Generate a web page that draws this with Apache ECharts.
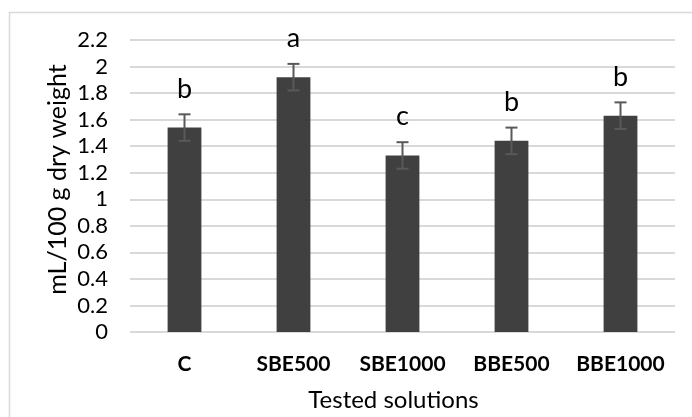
<!DOCTYPE html>
<html>
<head>
<meta charset="utf-8">
<script src="https://cdn.jsdelivr.net/npm/echarts@6/dist/echarts.min.js"></script>
<style>
html,body{margin:0;padding:0;background:#fff;}
#chart{width:692px;height:417px;}
</style>
</head>
<body>
<div id="chart"></div>
<script>
const categories = ['C', 'SBE500', 'SBE1000', 'BBE500', 'BBE1000'];
const values = [1.54, 1.92, 1.33, 1.44, 1.63];
const errors = [0.10, 0.10, 0.10, 0.10, 0.10];
const letters = ['b', 'a', 'c', 'b', 'b'];
const yTicks = [0, 0.2, 0.4, 0.6, 0.8, 1, 1.2, 1.4, 1.6, 1.8, 2, 2.2];

const FONT = 'Lato';
const chart = echarts.init(document.getElementById('chart'));

const errData = values.map((v, i) => [i, v, errors[i]]);

chart.setOption({
  animation: false,
  backgroundColor: '#fff',
  graphic: [{
    type: 'rect',
    shape: { x: 9.5, y: 12.5, width: 700, height: 420 },
    style: { fill: 'none', stroke: '#d9d9d9', lineWidth: 1.5 },
    z: -1
  }],
  grid: { left: 130, right: 17, top: 40, bottom: 81.5 },
  xAxis: {
    type: 'category',
    data: categories,
    axisLine: { show: false },
    axisTick: { show: false },
    axisLabel: { color: '#000', fontFamily: FONT, fontWeight: 'bold', fontSize: 21, margin: 22, interval: 0 },
    name: 'Tested solutions',
    nameLocation: 'middle',
    nameGap: 56,
    nameMoveOverlap: false,
    nameTextStyle: { color: '#000', fontFamily: FONT, fontSize: 24, padding: [0, 18, 0, 0] }
  },
  yAxis: {
    type: 'value',
    min: 0,
    max: yTicks[yTicks.length - 1],
    interval: 0.2,
    axisLine: { show: false },
    axisTick: { show: false },
    splitLine: { lineStyle: { color: '#d9d9d9', width: 2 } },
    axisLabel: {
      color: '#000', fontFamily: FONT, fontSize: 22, margin: 22,
      formatter: v => String(Math.round(v * 10) / 10)
    },
    name: 'mL/100 g dry weight',
    nameLocation: 'middle',
    nameGap: 60,
    nameMoveOverlap: false,
    nameTextStyle: { color: '#000', fontFamily: FONT, fontSize: 25, padding: [0, 0, 0, 13] }
  },
  series: [
    {
      type: 'bar',
      data: values,
      barWidth: '31%',
      itemStyle: { color: '#404040' }
    },
    {
      type: 'custom',
      data: errData,
      z: 5,
      renderItem: function (params, api) {
        const i = api.value(0), v = api.value(1), e = api.value(2);
        const top = api.coord([i, v + e]);
        const bot = api.coord([i, v - e]);
        const cap = 6;
        const ls = { stroke: '#595959', lineWidth: 2 };
        return {
          type: 'group',
          children: [
            { type: 'line', shape: { x1: top[0], y1: top[1], x2: bot[0], y2: bot[1] }, style: ls },
            { type: 'line', shape: { x1: top[0] - cap, y1: top[1], x2: top[0] + cap, y2: top[1] }, style: ls },
            { type: 'line', shape: { x1: bot[0] - cap, y1: bot[1], x2: bot[0] + cap, y2: bot[1] }, style: ls },
            { type: 'text', x: top[0], y: top[1] - 12,
              style: { text: letters[params.dataIndex], fill: '#000', font: '27px ' + FONT, align: 'center', verticalAlign: 'bottom' } }
          ]
        };
      }
    }
  ]
});
</script>
</body>
</html>
